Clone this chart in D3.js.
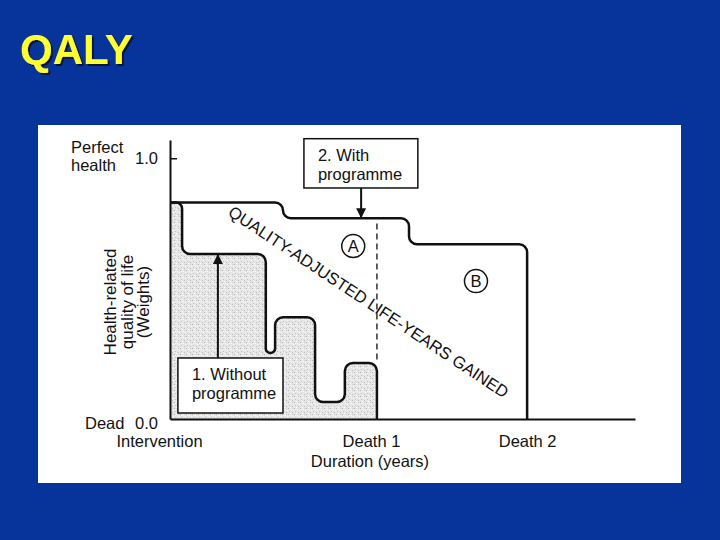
<!DOCTYPE html>
<html>
<head>
<meta charset="utf-8">
<script src="https://cdn.jsdelivr.net/npm/d3@7"></script>
<style>
  html, body { margin: 0; padding: 0; background: #07349a; }
  svg text { font-family: "Liberation Sans", Arial, Helvetica, sans-serif; fill: #111; }
</style>
</head>
<body>
<svg id="chart" width="720" height="540"></svg>
<script>
// years from intervention (0..100 scale units) and quality weights
var withoutX = [0, 2.6, 2.6, 20.6, 20.6, 22.6, 22.6, 31.2, 31.2, 37.6, 37.6, 44.5, 44.5];
var withoutY = [0.83, 0.83, 0.633, 0.633, 0.253, 0.253, 0.39, 0.39, 0.065, 0.065, 0.215, 0.215, 0];
var withX = [0, 24.3, 24.3, 51.4, 51.4, 76.8, 76.8];
var withY = [0.83, 0.83, 0.77, 0.77, 0.67, 0.67, 0];
var xTicks = [0, 44.5, 76.8];
var xTickLabels = ["Intervention", "Death 1", "Death 2"];
var yTicks = [0, 1];

var svg = d3.select("#chart");
var defs = svg.append("defs");

svg.append("rect")
  .attr("x", 38).attr("y", 125)
  .attr("width", 643).attr("height", 358)
  .attr("fill", "#fff");

// title with dark shadow
var shadow = defs.append("filter").attr("id", "shadow")
  .attr("x", "-10%").attr("y", "-10%").attr("width", "130%").attr("height", "130%");
shadow.append("feDropShadow")
  .attr("dx", 2).attr("dy", 2).attr("stdDeviation", 0.6)
  .attr("flood-color", "#101030").attr("flood-opacity", 0.9);

svg.append("text")
  .attr("x", 20).attr("y", 64)
  .attr("filter", "url(#shadow)")
  .style("font-size", "42px").style("font-weight", "bold")
  .style("fill", "#ffff33")
  .text("QALY");

var x = d3.scaleLinear().domain([0, 100]).range([170, 635]);
var y = d3.scaleLinear().domain([0, 1.07]).range([419, 140]);

// stipple for the area without programme
var pat = defs.append("pattern")
  .attr("id", "stipple")
  .attr("patternUnits", "userSpaceOnUse")
  .attr("width", 6).attr("height", 6);
pat.append("rect").attr("width", 6).attr("height", 6).attr("fill", "#e6e6e6");
[[0,0,"#b4b4b4"],[3,1,"#fbfbfb"],[1,3,"#c4c4c4"],[4,4,"#bcbcbc"],[5,2,"#f6f6f6"],[2,5,"#fcfcfc"],[4,0,"#d2d2d2"],[1,1,"#f2f2f2"]].forEach(function(d) {
  pat.append("rect").attr("x", d[0]).attr("y", d[1]).attr("width", 1).attr("height", 1).attr("fill", d[2]);
});

defs.append("marker")
  .attr("id", "arrow")
  .attr("viewBox", "0 0 10 10")
  .attr("refX", 9).attr("refY", 5)
  .attr("markerWidth", 5).attr("markerHeight", 6)
  .attr("orient", "auto")
  .append("path").attr("d", "M0,0 L10,5 L0,10 Z").attr("fill", "#111");

function toPts(xs, ys) {
  return xs.map(function(v, i) { return [x(v), y(ys[i])]; });
}

function roundedPath(pts, r, close) {
  var p = d3.path();
  p.moveTo(pts[0][0], pts[0][1]);
  for (var i = 1; i < pts.length - 1; i++) {
    var a = pts[i - 1], b = pts[i], c = pts[i + 1];
    var rr = Math.min(r, Math.hypot(b[0] - a[0], b[1] - a[1]) / 2, Math.hypot(c[0] - b[0], c[1] - b[1]) / 2);
    p.arcTo(b[0], b[1], c[0], c[1], rr);
  }
  p.lineTo(pts[pts.length - 1][0], pts[pts.length - 1][1]);
  if (close) {
    p.lineTo(x(0), y(0));
    p.closePath();
  }
  return p.toString();
}

var withoutPts = toPts(withoutX, withoutY);
var withPts = toPts(withX, withY);

svg.append("path")
  .attr("d", roundedPath(withoutPts, 8, true))
  .attr("fill", "url(#stipple)");

// dashed line at Death 1
svg.append("line")
  .attr("x1", x(44.5)).attr("x2", x(44.5))
  .attr("y1", y(0.75)).attr("y2", y(0.215))
  .attr("stroke", "#111").attr("stroke-width", 1.3)
  .attr("stroke-dasharray", "6,4");

svg.append("path")
  .attr("d", roundedPath(withPts, 8, false))
  .attr("fill", "none").attr("stroke", "#111").attr("stroke-width", 2.5);

svg.append("path")
  .attr("d", roundedPath(withoutPts, 8, false))
  .attr("fill", "none").attr("stroke", "#111").attr("stroke-width", 2.5);

// axes
var yAxis = svg.append("g")
  .attr("transform", "translate(" + x(0) + ",0)")
  .call(d3.axisLeft(y).tickValues(yTicks).tickSize(-7).tickSizeOuter(0)
    .tickPadding(12).tickFormat(d3.format(".1f")));
yAxis.select(".domain").attr("stroke", "#111").attr("stroke-width", 2);
yAxis.selectAll(".tick line").attr("stroke", "#111").attr("stroke-width", 1.5);
yAxis.selectAll(".tick text")
  .style("font-size", "16.5px").attr("fill", "#111")
  .attr("dy", function(d) { return d === 0 ? "0.55em" : "0.32em"; });
yAxis.selectAll(".tick").filter(function(d) { return d === 0; }).select("line").remove();

var xAxis = svg.append("g")
  .attr("transform", "translate(0," + y(0) + ")")
  .call(d3.axisBottom(x).tickValues(xTicks).tickSize(0).tickSizeOuter(0)
    .tickPadding(16).tickFormat(function(d, i) { return xTickLabels[i]; }));
xAxis.select(".domain").attr("stroke", "#111").attr("stroke-width", 2);
xAxis.selectAll(".tick text")
  .style("font-size", "16.5px").attr("fill", "#111")
  .attr("dx", function(d, i) { return i === 0 ? -11 : (i === 1 ? -6 : 0); });

svg.append("text")
  .attr("x", x(43)).attr("y", 467)
  .attr("text-anchor", "middle")
  .style("font-size", "16.5px")
  .text("Duration (years)");

// y axis labels
svg.append("text").attr("x", 71).attr("y", 153).style("font-size", "16.5px").text("Perfect");
svg.append("text").attr("x", 71).attr("y", 171).style("font-size", "16.5px").text("health");
svg.append("text").attr("x", 85).attr("y", 429).style("font-size", "16.5px").text("Dead");

var ylab = svg.append("text")
  .attr("transform", "translate(126,302) rotate(-90)")
  .attr("text-anchor", "middle")
  .style("font-size", "17px");
["Health-related", "quality of life", "(Weights)"].forEach(function(t, i) {
  ylab.append("tspan").attr("x", 0).attr("y", -10 + i * 16.5).text(t);
});

// annotation boxes
function box(x0, x1, y0, y1, lines) {
  var g = svg.append("g");
  g.append("rect")
    .attr("x", x(x0)).attr("y", y(y0))
    .attr("width", x(x1) - x(x0)).attr("height", y(y1) - y(y0))
    .attr("fill", "#fff").attr("stroke", "#111").attr("stroke-width", 1.5);
  lines.forEach(function(t, i) {
    g.append("text")
      .attr("x", x(x0) + 14).attr("y", y(y0) + 22 + i * 19)
      .style("font-size", "16.5px")
      .text(t);
  });
}

svg.append("line")
  .attr("x1", x(10.3)).attr("x2", x(10.3))
  .attr("y1", y(0.234)).attr("y2", y(0.633) + 1)
  .attr("stroke", "#111").attr("stroke-width", 2)
  .attr("marker-end", "url(#arrow)");
box(1.7, 24.3, 0.234, 0.023, ["1. Without", "programme"]);

svg.append("line")
  .attr("x1", x(41.1)).attr("x2", x(41.1))
  .attr("y1", y(1.0)).attr("y2", y(0.77) - 1)
  .attr("stroke", "#111").attr("stroke-width", 2)
  .attr("marker-end", "url(#arrow)");
box(28.8, 53.3, 1.075, 0.886, ["2. With", "programme"]);

// circled labels
[["A", 39.4, 0.663], ["B", 65.8, 0.529]].forEach(function(d) {
  svg.append("circle")
    .attr("cx", x(d[1])).attr("cy", y(d[2])).attr("r", 11.5)
    .attr("fill", "#fff").attr("stroke", "#111").attr("stroke-width", 1.5);
  svg.append("text")
    .attr("x", x(d[1])).attr("y", y(d[2]) + 6)
    .attr("text-anchor", "middle")
    .style("font-size", "16.5px")
    .text(d[0]);
});

svg.append("text")
  .attr("transform", "translate(" + x(42.7) + "," + y(0.449) + ") rotate(33.6)")
  .attr("text-anchor", "middle")
  .attr("dy", "0.35em")
  .style("font-size", "16.6px")
  .text("QUALITY-ADJUSTED LIFE-YEARS GAINED");
</script>
</body>
</html>
